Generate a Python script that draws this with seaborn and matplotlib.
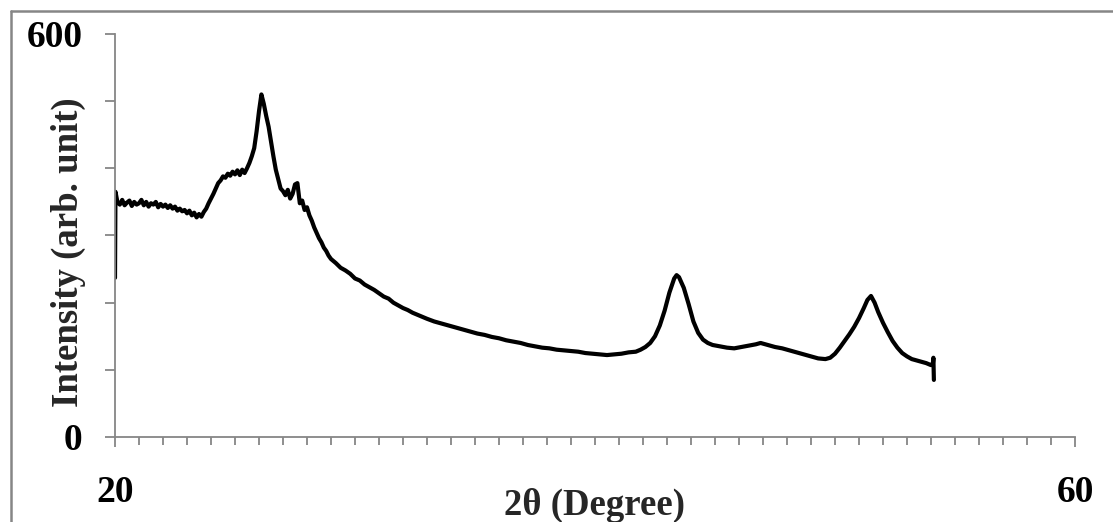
import matplotlib
matplotlib.use("Agg")
import matplotlib.pyplot as plt
from matplotlib.lines import Line2D
from matplotlib.ticker import MultipleLocator
import seaborn as sns
import pandas as pd

# ---- data ----
two_theta = [
    20.00, 20.02, 20.1, 20.2, 20.3, 20.4, 20.5, 20.6, 20.7, 20.8, 20.9, 21.0,
    21.1, 21.2, 21.3, 21.4, 21.5, 21.6, 21.7, 21.8, 21.9, 22.0, 22.1, 22.2,
    22.3, 22.4, 22.5, 22.6, 22.7, 22.8, 22.9, 23.0, 23.1, 23.2, 23.3, 23.4,
    23.5, 23.6, 23.7, 23.8, 23.9, 24.0, 24.1, 24.2, 24.3, 24.4, 24.5, 24.6,
    24.7, 24.8, 24.9, 25.0, 25.1, 25.2, 25.3, 25.4, 25.5, 25.6, 25.7, 25.8,
    25.9, 26.0, 26.1, 26.2, 26.3, 26.4, 26.5, 26.6, 26.7, 26.8, 26.9, 27.0,
    27.1, 27.2, 27.3, 27.4, 27.5, 27.6, 27.7, 27.8, 27.9, 28.0, 28.1, 28.2,
    28.3, 28.4, 28.5, 28.6, 28.7, 28.8, 28.9, 29.0, 29.2, 29.4, 29.6, 29.8,
    30.0, 30.2, 30.4, 30.6, 30.8, 31.0, 31.2, 31.4, 31.6, 31.8, 32.0, 32.2,
    32.4, 32.6, 32.8, 33.0, 33.3, 33.6, 33.9, 34.2, 34.5, 34.8, 35.1, 35.4,
    35.7, 36.0, 36.3, 36.6, 36.9, 37.2, 37.5, 37.8, 38.1, 38.4, 38.7, 39.0,
    39.3, 39.6, 39.9, 40.2, 40.5, 40.8, 41.1, 41.4, 41.7, 41.9, 42.1, 42.3,
    42.5, 42.7, 42.9, 43.1, 43.3, 43.4, 43.5, 43.7, 43.9, 44.1, 44.3, 44.5,
    44.7, 44.9, 45.2, 45.5, 45.8, 46.1, 46.4, 46.7, 46.9, 47.2, 47.5, 47.8,
    48.1, 48.4, 48.7, 49.0, 49.3, 49.6, 49.8, 50.0, 50.2, 50.4, 50.6, 50.8,
    51.0, 51.2, 51.35, 51.5, 51.65, 51.8, 52.0, 52.2, 52.4, 52.6, 52.8, 53.0,
    53.2, 53.4, 53.6, 53.8, 54.0, 54.08, 54.1, 54.12,
]
intensity = [
    237, 365, 350, 346, 353, 345, 349, 352, 344, 350, 346, 348,
    353, 345, 350, 343, 348, 346, 350, 342, 347, 343, 346, 341,
    345, 340, 343, 337, 340, 336, 338, 333, 337, 330, 334, 327,
    332, 328, 335, 340, 348, 355, 362, 370, 378, 382, 388, 386,
    392, 389, 395, 391, 397, 390, 398, 393, 400, 408, 418, 430,
    455, 485, 510, 496, 478, 462, 440, 418, 398, 384, 370, 366,
    360, 368, 355, 362, 376, 378, 348, 352, 338, 342, 330, 322,
    312, 304, 296, 290, 282, 277, 270, 265, 259, 252, 248, 243,
    236, 233, 227, 223, 219, 214, 209, 206, 200, 196, 192, 189,
    185, 182, 179, 176, 172, 169, 166, 163, 160, 157, 154, 152,
    149, 147, 144, 142, 140, 137, 135, 133, 132, 130, 129, 128,
    127, 125, 124, 123, 122, 123, 124, 126, 127, 130, 134, 140,
    150, 166, 188, 215, 236, 241, 238, 222, 198, 172, 155, 145,
    140, 137, 135, 133, 132, 134, 136, 138, 140, 137, 134, 132,
    129, 126, 123, 120, 117, 116, 118, 124, 133, 143, 153, 164,
    177, 192, 204, 210, 200, 186, 170, 156, 143, 133, 125, 120,
    116, 114, 112, 110, 107, 110, 118, 85,
]

x_ticks = [20, 60]
y_ticks = [0, 100, 200, 300, 400, 500, 600]
y_tick_labels = ["0", "", "", "", "", "", "600"]
x_label = "2θ (Degree)"
y_label = "Intensity (arb. unit)"

df = pd.DataFrame({"two_theta": two_theta, "intensity": intensity})

sns.set_theme(style="white")
plt.rcParams["font.family"] = ["Liberation Serif", "DejaVu Serif"]
plt.rcParams["font.weight"] = "bold"

fig = plt.figure(figsize=(11.13, 5.22), dpi=100)
ax = fig.add_axes([115 / 1113, 1 - 437 / 522, 960 / 1113, 403 / 522])

sns.lineplot(data=df, x="two_theta", y="intensity", ax=ax, color="black",
             linewidth=3.0, sort=False, estimator=None)

grey = "#868686"
ax.set_xlim(20, 60)
ax.set_ylim(0, 600)
ax.set_xticks(x_ticks)
ax.set_xticklabels([str(v) for v in x_ticks])
ax.xaxis.set_minor_locator(MultipleLocator(1))
ax.set_yticks(y_ticks)
ax.set_yticklabels(y_tick_labels)

for side in ["top", "right"]:
    ax.spines[side].set_visible(False)
for side in ["left", "bottom"]:
    ax.spines[side].set_color(grey)
    ax.spines[side].set_linewidth(1.3)

ax.tick_params(axis="both", which="major", direction="out", length=7.5,
               width=1.3, color=grey, labelsize=27, labelcolor="black",
               left=True, bottom=True)
ax.tick_params(axis="x", which="major", pad=20)
ax.tick_params(axis="y", which="major", pad=16)
ax.tick_params(axis="x", which="minor", direction="out", length=5.5,
               width=1.3, color=grey, bottom=True)
ax.tick_params(axis="y", which="minor", left=False)
for lab in ax.get_xticklabels() + ax.get_yticklabels():
    lab.set_fontweight("bold")

ax.set_xlabel(x_label, fontsize=26.5, fontweight="bold")
ax.xaxis.set_label_coords(0.5, -51 / 403)
ax.xaxis.label.set_va("top")
ax.set_ylabel(y_label, fontsize=26.5, fontweight="bold")
ax.yaxis.set_label_coords(-47 / 960, (437 - 252) / 403)
ax.yaxis.label.set_va("center")

# chart-area border (top and left edges visible in the reference)
fig.add_artist(Line2D([11 / 1113, 1.0], [1 - 11 / 522, 1 - 11 / 522],
                      transform=fig.transFigure, color=grey, linewidth=1.8))
fig.add_artist(Line2D([11 / 1113, 11 / 1113], [0.0, 1 - 11 / 522],
                      transform=fig.transFigure, color=grey, linewidth=1.8))

fig.savefig("out.png", dpi=100)
